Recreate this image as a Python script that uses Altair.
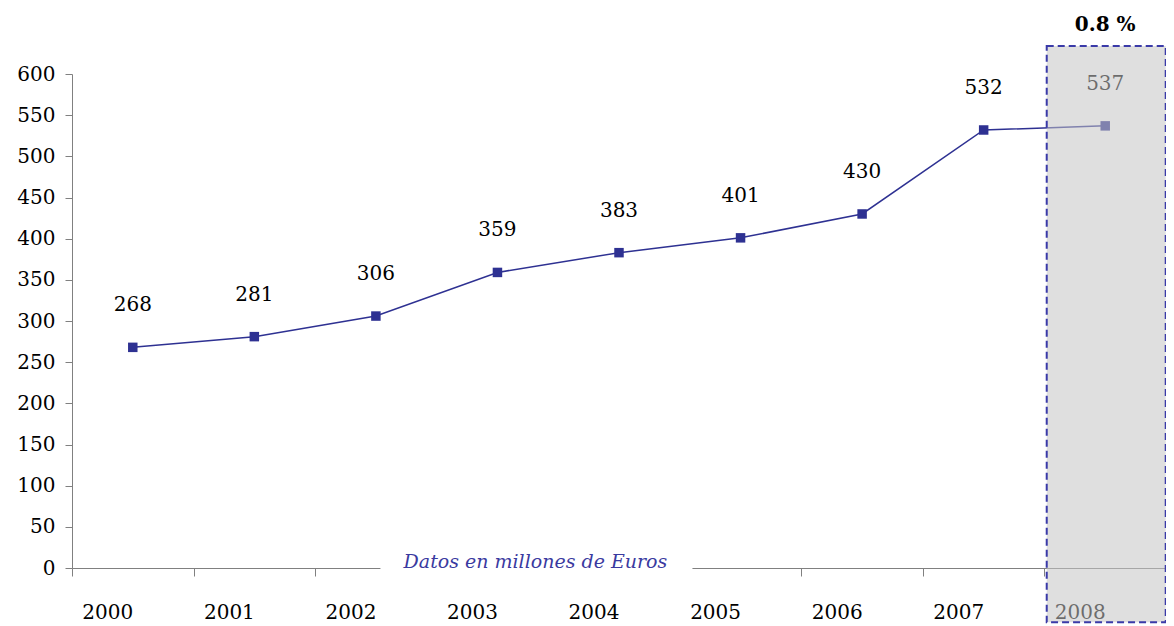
import altair as alt
import pandas as pd

years = ["2000", "2001", "2002", "2003", "2004", "2005", "2006", "2007", "2008"]
values = [268, 281, 306, 359, 383, 401, 430, 532, 537]
y_ticks = [0, 50, 100, 150, 200, 250, 300, 350, 400, 450, 500, 550, 600]
note_text = "Datos en millones de Euros"
growth_text = "0.8 %"
highlight_year = "2008"
highlight_lo, highlight_hi = -66, 634

FONT = "DejaVu Serif"
BLUE = "#2e3192"

df = pd.DataFrame({"year": years, "value": values})
box_df = pd.DataFrame({"year": [highlight_year], "lo": [highlight_lo], "hi": [highlight_hi]})
growth_df = pd.DataFrame({"year": [highlight_year], "v": [652], "t": [growth_text]})
note_df = pd.DataFrame({"year": ["2003"], "lo": [-12], "hi": [22], "v": [0], "t": [note_text]})

xscale = alt.Scale(type="band", paddingInner=0, paddingOuter=0, domain=years)
yscale = alt.Scale(domain=[0, 600], nice=False, zero=True)

x = alt.X("year:O", scale=xscale, sort=years,
          axis=alt.Axis(title=None, labelAngle=0, tickBand="extent", tickSize=8,
                        labelPadding=36, labelFont=FONT, labelFontSize=20,
                        labelColor="black", domainColor="#808080", tickColor="#808080",
                        grid=False))
y = alt.Y("value:Q", scale=yscale,
          axis=alt.Axis(title=None, values=y_ticks, tickSize=7, labelPadding=10,
                        labelFont=FONT, labelFontSize=20, labelColor="black",
                        domainColor="#808080", tickColor="#808080", grid=False))

base = alt.Chart(df)
line = base.mark_line(color=BLUE, strokeWidth=1.5).encode(x=x, y=y)
pts = base.mark_point(shape="square", filled=True, size=90, color=BLUE, opacity=1).encode(x=x, y=y)
labels = base.mark_text(dy=-42, font=FONT, fontSize=20, color="black").encode(
    x=x, y=y, text="value:Q")

note_bg = alt.Chart(note_df).mark_bar(color="white", width=312, xOffset=39).encode(
    x=alt.X("year:O", scale=xscale, sort=years), y=alt.Y("lo:Q", scale=yscale), y2="hi:Q")
note = alt.Chart(note_df).mark_text(font=FONT, fontSize=19, fontStyle="italic",
                                    color="#3a3aa0", xOffset=38, dy=-6).encode(
    x=alt.X("year:O", scale=xscale, sort=years), y=alt.Y("v:Q", scale=yscale), text="t:N")

box = alt.Chart(box_df).mark_bar(width=119, xOffset=1, fill="#c4c4c4", fillOpacity=0.55,
                                 stroke="#3a3aa8", strokeWidth=2, strokeDash=[7, 4]).encode(
    x=alt.X("year:O", scale=xscale, sort=years), y=alt.Y("lo:Q", scale=yscale), y2="hi:Q")

growth = alt.Chart(growth_df).mark_text(font=FONT, fontSize=20, fontWeight="bold",
                                        color="black", baseline="alphabetic").encode(
    x=alt.X("year:O", scale=xscale, sort=years), y=alt.Y("v:Q", scale=yscale), text="t:N")

chart = alt.layer(note_bg, line, pts, labels, note, box, growth).properties(
    width=1094, height=494,
    background="white",
    autosize=alt.AutoSizeParams(type="none"),
    padding={"left": 64, "top": 66, "right": 0, "bottom": 56},
).configure_view(stroke=None)

chart.save("out.html", embed_options={"renderer": "svg", "actions": False})
